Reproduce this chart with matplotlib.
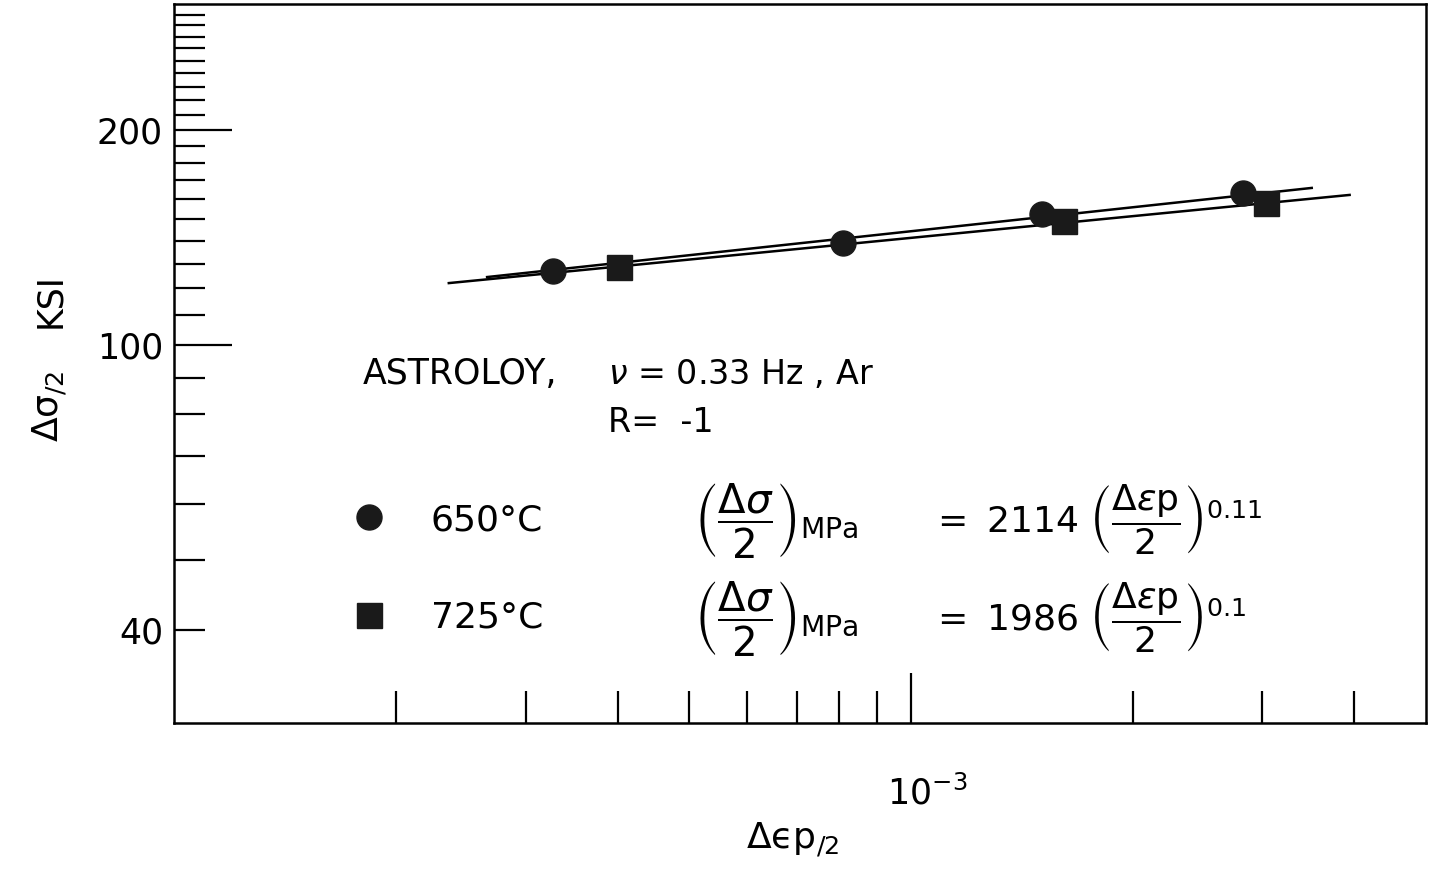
import matplotlib
matplotlib.use('Agg')
import matplotlib.pyplot as plt
from matplotlib.ticker import NullFormatter

plt.rcParams['font.family'] = ['DejaVu Sans']
plt.rcParams['mathtext.fontset'] = 'dejavusans'

# data (strain amplitude, stress amplitude in ksi)
x_650 = [3.27e-4, 8.09e-4, 1.505e-3, 2.82e-3]
y_650 = [126.9, 138.9, 152.6, 163.2]
x_725 = [4.02e-4, 1.613e-3, 3.03e-3]
y_725 = [128.6, 149.2, 158.0]

# end points of the fitted lines
fit_x_650 = [2.66e-4, 3.50e-3]
fit_y_650 = [124.5, 165.9]
fit_x_725 = [2.36e-4, 3.94e-3]
fit_y_725 = [122.1, 162.2]

y_major = [40, 100, 200]
y_minor = [50, 60, 70, 80, 90, 110, 120, 130, 140, 150, 160, 170, 180, 190,
           210, 220, 230, 240, 250, 260, 270, 280, 290]
x_minor = [2e-4, 3e-4, 4e-4, 5e-4, 6e-4, 7e-4, 8e-4, 9e-4, 2e-3, 3e-3, 4e-3]

fig = plt.figure(figsize=(14.29, 8.75), dpi=100)
ax = fig.add_axes([0.1218, 0.1737, 0.876, 0.8217])
ax.set_xscale('log')
ax.set_yscale('log')
ax.set_xlim(1.0e-4, 5.0e-3)
ax.set_ylim(29.6, 300)

ax.plot(fit_x_650, fit_y_650, color='black', lw=1.8)
ax.plot(fit_x_725, fit_y_725, color='black', lw=1.8)
ax.plot(x_650, y_650, 'o', color='#1a1a1a', ms=18, ls='none', label='650°C')
ax.plot(x_725, y_725, 's', color='#1a1a1a', ms=18, ls='none', label='725°C')

# ticks
ax.set_yticks(y_major)
ax.set_yticklabels([str(v) for v in y_major])
ax.set_yticks(y_minor, minor=True)
ax.yaxis.set_minor_formatter(NullFormatter())
ax.set_xticks([1e-3])
ax.set_xticklabels(['   10$^{-3}$'])
ax.set_xticks(x_minor, minor=True)
ax.xaxis.set_minor_formatter(NullFormatter())

ax.tick_params(axis='y', which='major', direction='in', length=42, width=1.6, labelsize=25, pad=8)
ax.tick_params(axis='y', which='minor', direction='in', length=22, width=1.6)
ax.tick_params(axis='x', which='major', direction='in', length=36, width=1.6, labelsize=25, pad=38)
ax.tick_params(axis='x', which='minor', direction='in', length=23, width=1.6)
ax.yaxis.get_major_ticks()[0].tick1line.set_markersize(22)
for s in ax.spines.values():
    s.set_linewidth(1.8)

fig.text(0.555, 0.018, r'Δϵp$_{/2}$', fontsize=26, ha='center', va='bottom')
fig.text(0.035, 0.535, r'Δσ$_{/2}$', fontsize=26, rotation=90, ha='center', va='center')
fig.text(0.035, 0.657, 'KSI', fontsize=25, rotation=90, ha='center', va='center')

# annotations
ax.text(0.151, 0.485, 'ASTROLOY,', transform=ax.transAxes, fontsize=25, va='center')
ax.text(0.3466, 0.485, r'$\nu$ = 0.33 Hz , Ar', transform=ax.transAxes, fontsize=24, va='center')
ax.text(0.3466, 0.418, 'R=  -1', transform=ax.transAxes, fontsize=24, va='center')

ax.legend(loc='upper left', bbox_to_anchor=(0.133, 0.326), frameon=False, fontsize=26,
          handlelength=0.8, handletextpad=1.3, labelspacing=1.77, markerscale=1.0,
          borderaxespad=0)

ax.text(0.415, 0.282, r'$\left(\dfrac{\Delta\sigma}{2}\right)_{\mathrm{MPa}}$',
        transform=ax.transAxes, fontsize=29, va='center')
ax.text(0.604, 0.282, r'$=\ 2114\ \left(\dfrac{\Delta\epsilon\mathrm{p}}{2}\right)^{0.11}$',
        transform=ax.transAxes, fontsize=26, va='center')
ax.text(0.415, 0.146, r'$\left(\dfrac{\Delta\sigma}{2}\right)_{\mathrm{MPa}}$',
        transform=ax.transAxes, fontsize=29, va='center')
ax.text(0.604, 0.146, r'$=\ 1986\ \left(\dfrac{\Delta\epsilon\mathrm{p}}{2}\right)^{0.1}$',
        transform=ax.transAxes, fontsize=26, va='center')

fig.savefig('out.png', dpi=100)
